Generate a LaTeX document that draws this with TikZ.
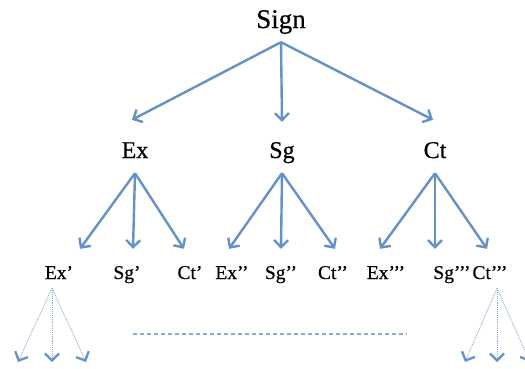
\documentclass[tikz,border=0pt]{standalone}
\usepackage{fontspec}
\setmainfont{Liberation Serif}
\newfontfamily\lblfont{Liberation Serif}[FakeBold=0.5]
\usetikzlibrary{arrows.meta}
\definecolor{arr}{RGB}{100,145,200}
\definecolor{arrlight}{RGB}{135,170,212}
\definecolor{dashc}{RGB}{140,172,214}
\begin{document}
\begin{tikzpicture}[x=1pt,y=-1pt,
  lbl/.style={inner sep=0pt, anchor=base},
  toplbl/.style={lbl, font=\lblfont\fontsize{27}{29}\selectfont, text depth=14pt},
  midlbl/.style={lbl, font=\lblfont\fontsize{24}{26}\selectfont, text height=38pt, text depth=15pt},
  lowlbl/.style={lbl, font=\lblfont\fontsize{19.5}{21}\selectfont, text height=30pt, text depth=9pt},
  arrowline/.style={draw=arr, line width=2.4pt, -{Straight Barb[length=7pt,width=14pt]}},
  thinarrow/.style={draw=arrlight, line width=0.9pt, densely dotted, -{Straight Barb[length=7pt,width=14pt,line width=2.3pt,color=arr]}},
  dashline/.style={draw=dashc, line width=2.4pt, dash pattern=on 4pt off 3pt}
]
\useasboundingbox (0,0) rectangle (525,368);

% labels
\node[toplbl] (sign) at (281,28) {Sign};
\node[midlbl] (ex) at (135,158) {Ex};
\node[midlbl] (sg) at (282,158) {Sg};
\node[midlbl] (ct) at (435,158) {Ct};

\node[lowlbl] (ex1) at (59,279) {Ex’};
\node[lowlbl] (sg1) at (127,279) {Sg’};
\node[lowlbl] (ct1) at (190,279) {Ct’};
\node[lowlbl] (ex2) at (232,279) {Ex’’};
\node[lowlbl] (sg2) at (281,279) {Sg’’};
\node[lowlbl] (ct2) at (333,279) {Ct’’};
\node[lowlbl] (ex3) at (386,279) {Ex’’’};
\node[lowlbl] (sg3) at (452,279) {Sg’’’};
\node[lowlbl] (ct3) at (490,279) {Ct’’’};

% first level
\draw[arrowline] (sign.south) -- ([xshift=-3pt]ex.north);
\draw[arrowline] (sign.south) -- ([yshift=-2pt]sg.north);
\draw[arrowline] (sign.south) -- ([xshift=-2pt]ct.north);

% second level
\draw[arrowline] (ex.south) -- ([xshift=21pt]ex1.north);
\draw[arrowline] (ex.south) -- ([xshift=6pt]sg1.north);
\draw[arrowline] (ex.south) -- ([xshift=-6pt]ct1.north);

\draw[arrowline] (sg.south) -- ([xshift=-3pt]ex2.north);
\draw[arrowline] (sg.south) -- (sg2.north);
\draw[arrowline] (sg.south) -- ([xshift=2pt]ct2.north);

\draw[arrowline] (ct.south) -- ([xshift=-6pt]ex3.north);
\draw[arrowline] (ct.south) -- ([xshift=-17pt]sg3.north);
\draw[arrowline] (ct.south) -- ([xshift=-3pt]ct3.north);

% third level (thin, dotted)
\coordinate (exA) at (18,362);
\coordinate (exB) at (52,362);
\coordinate (exC) at (86,362);
\coordinate (ctA) at (465,362);
\coordinate (ctB) at (497,362);
\coordinate (ctC) at (530,362);
\draw[thinarrow] ([xshift=-7pt]ex1.south) -- (exA);
\draw[thinarrow] ([xshift=-7pt]ex1.south) -- (exB);
\draw[thinarrow] ([xshift=-7pt]ex1.south) -- (exC);
\draw[thinarrow] ([xshift=7pt]ct3.south) -- (ctA);
\draw[thinarrow] ([xshift=7pt]ct3.south) -- (ctB);
\draw[thinarrow] ([xshift=7pt]ct3.south) -- (ctC);

% dashed ellipsis line
\coordinate (dl) at (133,334);
\coordinate (dr) at (407,334);
\draw[dashline] (dl) -- (dr);
\end{tikzpicture}
\end{document}
